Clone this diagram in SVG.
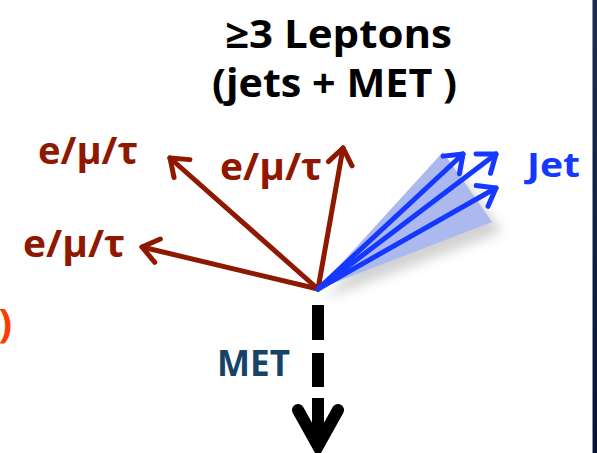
<svg xmlns="http://www.w3.org/2000/svg" width="597" height="453" viewBox="0 0 597 453">
  <defs>
    <style>
      .t { font-family: "Open Sans", "Noto Sans", "DejaVu Sans", sans-serif; font-weight: bold; }
      .red { fill: #8f1800; }
      .blue { fill: #1438ff; }
      .lep { stroke: #8f1800; stroke-width: 5; fill: none; stroke-linecap: round; }
      .jet { stroke: #1438ff; stroke-width: 5; fill: none; stroke-linecap: round; }
    </style>
    <marker id="ahRed" markerUnits="userSpaceOnUse" markerWidth="40" markerHeight="40" refX="0" refY="0" viewBox="-20 -20 40 40" orient="auto">
      <path d="M-16,-12 L0,0 L-16,12" fill="none" stroke="#8f1800" stroke-width="5" stroke-linecap="round" stroke-linejoin="round"/>
    </marker>
    <marker id="ahBlue" markerUnits="userSpaceOnUse" markerWidth="40" markerHeight="40" refX="0" refY="0" viewBox="-20 -20 40 40" orient="auto">
      <path d="M-16,-12 L0,0 L-16,12" fill="none" stroke="#1438ff" stroke-width="5" stroke-linecap="round" stroke-linejoin="round"/>
    </marker>
    <linearGradient id="edge" x1="0" y1="0" x2="0" y2="1">
      <stop offset="0" stop-color="#1c2c50"/>
      <stop offset="1" stop-color="#0a1234"/>
    </linearGradient>
    <filter id="shadow" x="-30%" y="-30%" width="160%" height="160%">
      <feGaussianBlur stdDeviation="6"/>
    </filter>
  </defs>

  <rect x="0" y="0" width="597" height="453" fill="#ffffff"/>
  <line x1="592.5" y1="0" x2="592.5" y2="453" stroke="#8a92a4" stroke-width="1"/>
  <rect x="593" y="0" width="4" height="453" fill="url(#edge)"/>

  <g id="title">
    <text class="t" x="338.5" y="48" font-size="39" text-anchor="middle" fill="#000000" textLength="227" lengthAdjust="spacingAndGlyphs">≥3 Leptons</text>
    <text class="t" x="334.5" y="97" font-size="39" text-anchor="middle" fill="#000000" textLength="245" lengthAdjust="spacingAndGlyphs">(jets + MET )</text>
  </g>

  <g id="jet-cone">
    <polygon points="326,298 452,162 502,232" fill="#808080" opacity="0.35" filter="url(#shadow)"/>
    <polygon points="318,289 443,152 492,222" fill="#abb9ef"/>
  </g>

  <g id="connectors">
    <line class="lep" x1="318" y1="289" x2="170" y2="158" marker-end="url(#ahRed)"/>
    <line class="lep" x1="318" y1="289" x2="343" y2="148" marker-end="url(#ahRed)"/>
    <line class="lep" x1="318" y1="289" x2="142" y2="247" marker-end="url(#ahRed)"/>
    <line class="jet" x1="318" y1="289" x2="463" y2="154" marker-end="url(#ahBlue)"/>
    <line class="jet" x1="318" y1="289" x2="496" y2="154" marker-end="url(#ahBlue)"/>
    <line class="jet" x1="318" y1="289" x2="496" y2="188" marker-end="url(#ahBlue)"/>
    <g id="met-arrow">
      <path d="M318,305 V340 M318,353 V387 M318,398 V446" stroke="#000000" stroke-width="12" fill="none"/>
      <path d="M298,410 L318,446 L338,410" stroke="#000000" stroke-width="12" fill="none" stroke-linecap="round" stroke-linejoin="miter"/>
    </g>
  </g>

  <g id="lepton1">
    <text class="t red" x="38" y="164" font-size="38" textLength="100" lengthAdjust="spacingAndGlyphs">e/μ/τ</text>
  </g>
  <g id="lepton2">
    <text class="t red" x="220" y="180" font-size="38" textLength="102" lengthAdjust="spacingAndGlyphs">e/μ/τ</text>
  </g>
  <g id="lepton3">
    <text class="t red" x="23" y="257" font-size="38" textLength="102" lengthAdjust="spacingAndGlyphs">e/μ/τ</text>
  </g>
  <g id="jet-label">
    <text class="t blue" x="527" y="177" font-size="34" textLength="53" lengthAdjust="spacingAndGlyphs">Jet</text>
  </g>
  <g id="met-label">
    <text class="t" x="217" y="376" font-size="36" fill="#164468" textLength="73" lengthAdjust="spacingAndGlyphs">MET</text>
  </g>
  <text class="t" x="12" y="337" font-size="40" fill="#ff3a00" text-anchor="end">)</text>
</svg>
